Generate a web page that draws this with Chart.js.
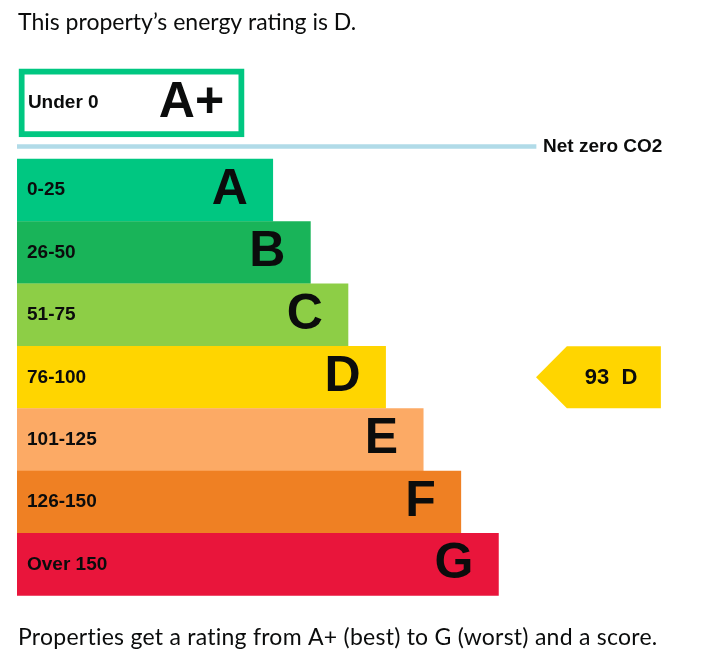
<!DOCTYPE html>
<html>
<head>
<meta charset="utf-8">
<title>Energy rating</title>
<script src="https://cdn.jsdelivr.net/npm/chart.js@4.4.1/dist/chart.umd.min.js"></script>
<style>
  html, body { margin: 0; padding: 0; background: #fff; }
  #wrap { width: 722px; height: 662px; }
</style>
</head>
<body>
<div id="wrap"><canvas id="epc" width="722" height="662"></canvas></div>
<script>
// bands, top to bottom
const ratings = ['A+', 'A', 'B', 'C', 'D', 'E', 'F', 'G'];
const scoreRanges = ['Under 0', '0-25', '26-50', '51-75', '76-100', '101-125', '126-150', 'Over 150'];
const bandLengths = [60, 68, 78, 88, 98, 108, 118, 128];
const bandRows = [-0.4, 1, 2, 3, 4, 5, 6, 7];
const bandColours = ['#00c781', '#00c781', '#19b459', '#8dce46', '#ffd500', '#fcaa65', '#ef8023', '#e9153b'];

// current rating of this property
const currentScore = 93;
const currentRating = 'D';

// net zero marker
const netZeroRow = 0.3;
const netZeroLength = 138;

const titleText = 'This property\u2019s energy rating is D.';
const footText = 'Properties get a rating from A+ (best) to G (worst) and a score.';

const labelFont = 'bold 19px "Liberation Sans", Arial, sans-serif';
const letterFont = 'bold 50px "Liberation Sans", Arial, sans-serif';
const textFont = '23px Lato, "Noto Sans", sans-serif';

const epcLabels = {
  id: 'epcLabels',
  afterDatasetsDraw(chart) {
    const {ctx, scales: {x}} = chart;
    const boxEl = chart.getDatasetMeta(0).data[0];
    const lineEl = chart.getDatasetMeta(1).data[0];
    const bandEls = chart.getDatasetMeta(2).data;

    ctx.save();
    ctx.fillStyle = '#0b0c0c';
    ctx.textBaseline = 'middle';

    // A+ box text
    ctx.font = labelFont;
    ctx.textAlign = 'left';
    ctx.fillText(scoreRanges[0], boxEl.base + 9, boxEl.y);
    ctx.font = letterFont;
    ctx.textAlign = 'right';
    ctx.fillText(ratings[0], boxEl.x - 20, boxEl.y);

    // coloured bands
    bandEls.forEach((el, i) => {
      ctx.font = labelFont;
      ctx.textAlign = 'left';
      ctx.fillText(scoreRanges[i + 1], el.base + 10, el.y);
      ctx.font = letterFont;
      ctx.textAlign = 'right';
      ctx.fillText(ratings[i + 1], el.x - 25, el.y);
    });

    // net zero label
    ctx.font = labelFont;
    ctx.textAlign = 'left';
    ctx.fillText('Net zero CO2', lineEl.x + 7, lineEl.y);

    // current rating arrow
    const row = bandEls[ratings.indexOf(currentRating) - 1];
    const half = row.height / 2;
    const tip = x.getPixelForValue(138);
    const shoulder = x.getPixelForValue(146.2);
    const end = x.getPixelForValue(171.2);
    ctx.fillStyle = bandColours[ratings.indexOf(currentRating)];
    ctx.beginPath();
    ctx.moveTo(tip, row.y);
    ctx.lineTo(shoulder, row.y - half);
    ctx.lineTo(end, row.y - half);
    ctx.lineTo(end, row.y + half);
    ctx.lineTo(shoulder, row.y + half);
    ctx.closePath();
    ctx.fill();
    ctx.fillStyle = '#0b0c0c';
    ctx.font = 'bold 22px "Liberation Sans", Arial, sans-serif';
    ctx.textAlign = 'left';
    ctx.fillText(currentScore + '  ' + currentRating, shoulder + 18, row.y + 1);

    // heading and footnote
    ctx.font = textFont;
    ctx.fillText(titleText, 18, 23);
    ctx.letterSpacing = '0.25px';
    ctx.fillText(footText, 18, 638);
    ctx.restore();
  }
};

new Chart(document.getElementById('epc'), {
  type: 'bar',
  data: {
    datasets: [
      {
        data: [{x: [0.5, bandLengths[0] + 0.4], y: bandRows[0]}],
        backgroundColor: '#ffffff',
        borderColor: bandColours[0],
        borderWidth: 6,
        borderSkipped: false,
        barThickness: 68,
        grouped: false
      },
      {
        data: [{x: [0, netZeroLength], y: netZeroRow}],
        backgroundColor: '#b1dbe8',
        borderWidth: 0,
        barThickness: 4,
        grouped: false
      },
      {
        data: bandLengths.slice(1).map((v, i) => ({x: v, y: bandRows[i + 1]})),
        backgroundColor: bandColours.slice(1),
        borderWidth: 0,
        barThickness: 62,
        grouped: false
      }
    ]
  },
  options: {
    indexAxis: 'y',
    responsive: false,
    animation: false,
    devicePixelRatio: 1,
    layout: {padding: {left: 17, right: 28, top: 3, bottom: 4}},
    scales: {
      x: {type: 'linear', min: 0, max: 180, display: false},
      y: {type: 'linear', min: -2, max: 8.5, reverse: true, offset: false, display: false}
    },
    plugins: {
      legend: {display: false},
      tooltip: {enabled: false}
    }
  },
  plugins: [epcLabels]
});
</script>
</body>
</html>
